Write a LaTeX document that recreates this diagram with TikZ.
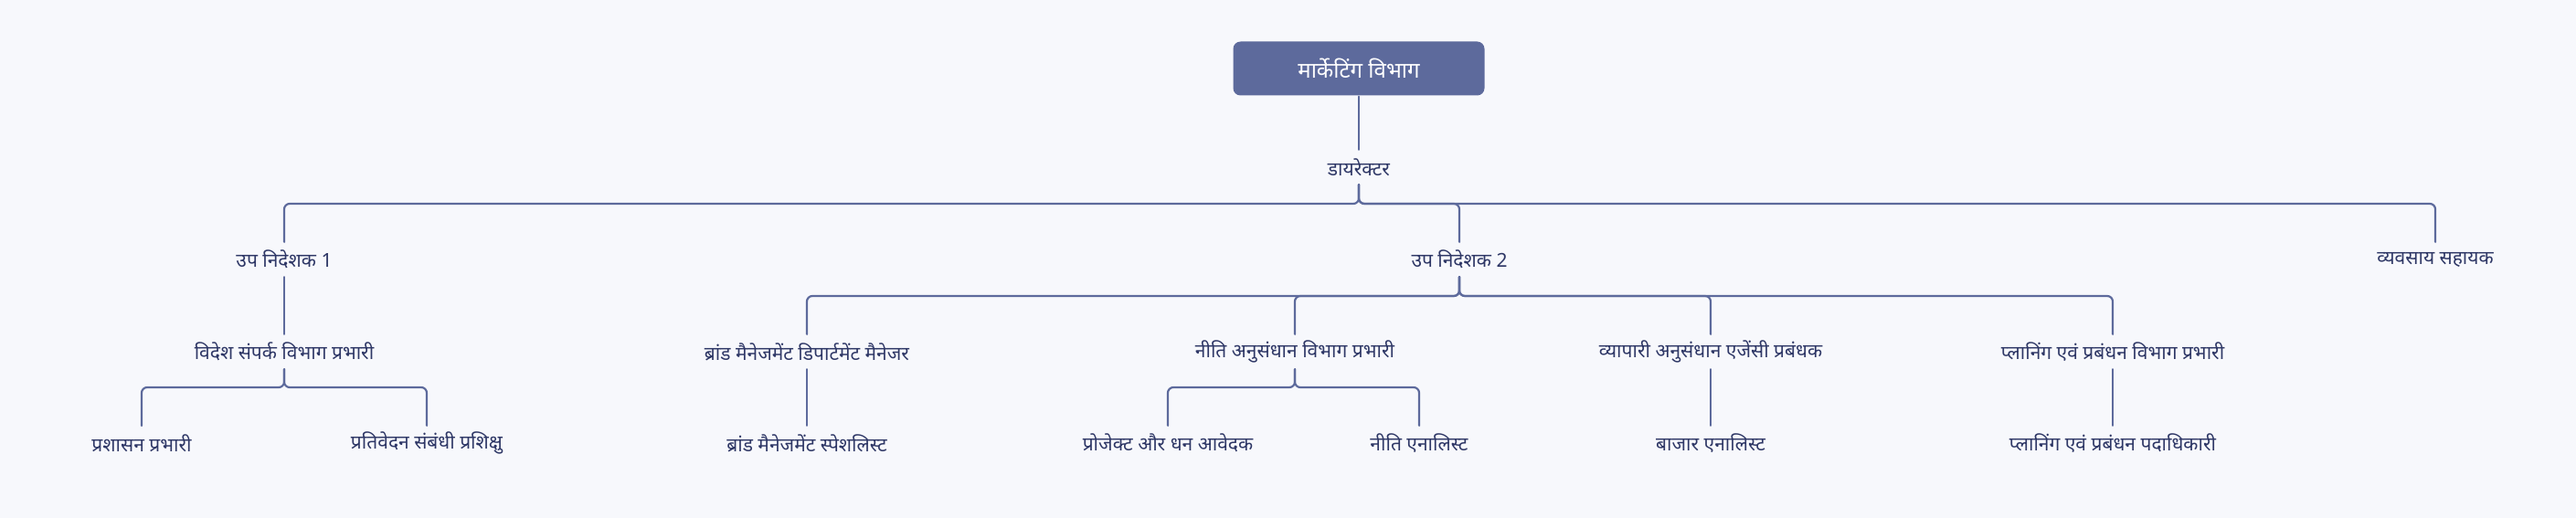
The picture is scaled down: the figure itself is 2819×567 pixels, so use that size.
\documentclass[tikz,border=0pt]{standalone}
\usepackage{fontspec}
\newfontfamily\hindi[Script=Devanagari]{Noto Sans}
\usetikzlibrary{positioning}
\definecolor{bg}{HTML}{F7F8FC}
\definecolor{edge}{HTML}{5D6A9C}
\definecolor{ink}{HTML}{2E3766}
\begin{document}
\begin{tikzpicture}[x=1pt,y=-1pt,line width=2.2pt,line cap=round]
	\tikzstyle{role}=[inner sep=0pt,minimum height=36pt,text=ink,font=\hindi\fontsize{21}{24}\selectfont];
	\tikzstyle{head}=[rounded corners=8pt,fill=edge,text=white,minimum width=275pt,minimum height=59pt,font=\hindi\fontsize{24}{27}\selectfont];
	\tikzstyle{link}=[edge,rounded corners=6pt];
	%% Background
	\fill[bg] (0,0) rectangle (2819,567);
	%% Nodes
	\node[head] (M) at (1487,75) {मार्केटिंग विभाग};
	\node[role] (D)  at (1487,183) {डायरेक्टर};
	\node[role] (U1) at (311,284)  {उप निदेशक 1};
	\node[role] (U2) at (1597,284) {उप निदेशक 2};
	\node[role] (VS) at (2665,284) {व्यवसाय सहायक};
	\node[role] (VD) at (311,385)  {विदेश संपर्क विभाग प्रभारी};
	\node[role] (BM) at (883,385)  {ब्रांड मैनेजमेंट डिपार्टमेंट मैनेजर};
	\node[role] (NA) at (1417,385) {नीति अनुसंधान विभाग प्रभारी};
	\node[role] (VA) at (1872,385) {व्यापारी अनुसंधान एजेंसी प्रबंधक};
	\node[role] (PP) at (2312,385) {प्लानिंग एवं प्रबंधन विभाग प्रभारी};
	\node[role] (PR) at (155,485)  {प्रशासन प्रभारी};
	\node[role] (PS) at (467,485)  {प्रतिवेदन संबंधी प्रशिक्षु};
	\node[role] (BS) at (883,485)  {ब्रांड मैनेजमेंट स्पेशलिस्ट};
	\node[role] (PD) at (1278,485) {प्रोजेक्ट और धन आवेदक};
	\node[role] (NE) at (1553,485) {नीति एनालिस्ट};
	\node[role] (BE) at (1872,485) {बाजार एनालिस्ट};
	\node[role] (PA) at (2312,485) {प्लानिंग एवं प्रबंधन पदाधिकारी};
	%% Links
	\draw[link] (M.south) -- (D.north);
	\foreach \c in {U1,U2,VS}
		\draw[link] (D.south) -- (D.south |- 0,223) -- (\c.north |- 0,223) -- (\c.north);
	\draw[link] (U1.south) -- (VD.north);
	\foreach \c in {BM,NA,VA,PP}
		\draw[link] (U2.south) -- (U2.south |- 0,324) -- (\c.north |- 0,324) -- (\c.north);
	\foreach \c in {PR,PS}
		\draw[link] (VD.south) -- (VD.south |- 0,424) -- (\c.north |- 0,424) -- (\c.north);
	\foreach \c in {PD,NE}
		\draw[link] (NA.south) -- (NA.south |- 0,424) -- (\c.north |- 0,424) -- (\c.north);
	\draw[link] (BM.south) -- (BS.north);
	\draw[link] (VA.south) -- (BE.north);
	\draw[link] (PP.south) -- (PA.north);
\end{tikzpicture}
\end{document}
